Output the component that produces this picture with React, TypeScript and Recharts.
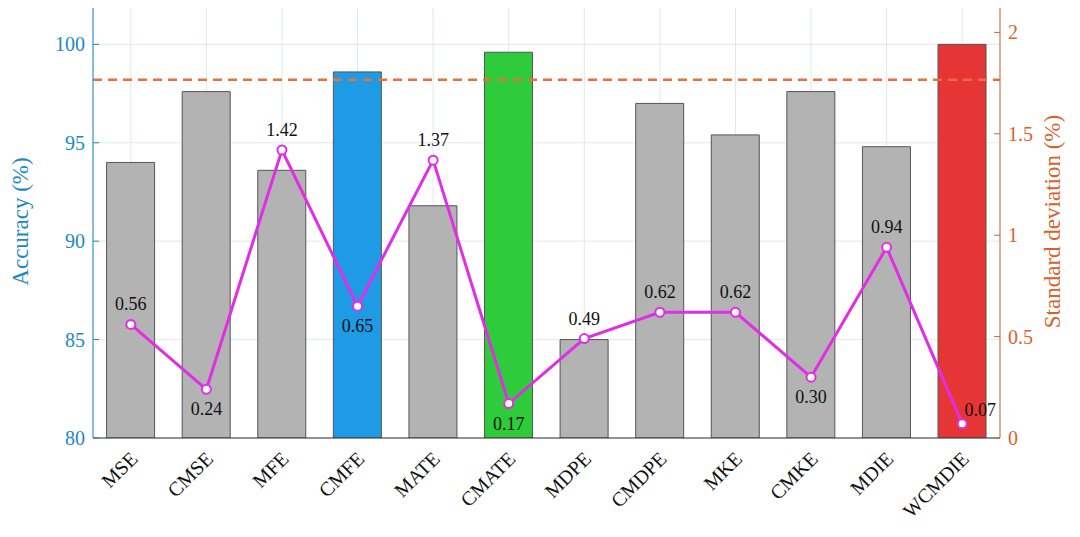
import { ComposedChart, Bar, Line, XAxis, YAxis, CartesianGrid, ReferenceLine, Cell, LabelList } from "recharts";

const methods = ["MSE", "CMSE", "MFE", "CMFE", "MATE", "CMATE", "MDPE", "CMDPE", "MKE", "CMKE", "MDIE", "WCMDIE"];
const accuracy = [94.0, 97.6, 93.6, 98.6, 91.8, 99.6, 85.0, 97.0, 95.4, 97.6, 94.8, 100.0];
const stdDev = [0.56, 0.24, 1.42, 0.65, 1.37, 0.17, 0.49, 0.62, 0.62, 0.3, 0.94, 0.07];
const labelPos = ["up", "down", "up", "down", "up", "down", "up", "up", "up", "down", "up", "right"];
const barColors = ["#b3b3b3", "#b3b3b3", "#b3b3b3", "#1f9be6", "#b3b3b3", "#2ecc3a", "#b3b3b3", "#b3b3b3", "#b3b3b3", "#b3b3b3", "#b3b3b3", "#e53535"];
const leftTicks = [80, 85, 90, 95, 100];
const rightTicks = [0, 0.5, 1, 1.5, 2];

const data = methods.map((m, i) => ({ name: m, acc: accuracy[i], sd: stdDev[i], pos: labelPos[i] }));

const blue = "#1a8ac4";
const orange = "#d9622b";
const font = "Liberation Serif";

const SdLabel = (props: any) => {
  const { x, y, value, index } = props;
  const pos = labelPos[index];
  let dx = 0;
  let dy = -14;
  if (pos === "down") dy = 26;
  if (pos === "right") { dx = 18; dy = -8; }
  return (
    <text x={x + dx} y={y + dy} textAnchor="middle" fontFamily={font} fontSize={18} fill="#111">
      {value.toFixed(2)}
    </text>
  );
};

const XTick = (props: any) => {
  const { x, y, payload } = props;
  return (
    <text x={x + 8} y={y + 14} textAnchor="end" fontFamily={font} fontSize={20} fill="#111" transform={`rotate(-45, ${x + 8}, ${y + 14})`}>
      {payload.value}
    </text>
  );
};

export default function App() {
  return (
    <div style={{ margin: -8, background: "#fff" }}>
      <ComposedChart width={1080} height={537} data={data} margin={{ top: 5, right: 14, bottom: 11, left: 6 }} barCategoryGap="18%">
        <CartesianGrid yAxisId="l" stroke="#dfe9ee" vertical={true} horizontal={true} />
        <XAxis dataKey="name" tick={<XTick />} tickLine={false} stroke="#333" height={88} interval={0} />
        <YAxis
          yAxisId="l"
          domain={[80, 102]}
          ticks={leftTicks}
          allowDataOverflow
          stroke={blue}
          tick={{ fill: blue, fontFamily: font, fontSize: 20 }}
          tickSize={-6}
          tickMargin={14}
          width={87}
          label={{ value: "Accuracy (%)", angle: -90, position: "insideLeft", offset: 14, fill: blue, fontFamily: font, fontSize: 23, style: { textAnchor: "middle" } }}
        />
        <YAxis
          yAxisId="r"
          orientation="right"
          domain={[0, 2.135]}
          ticks={rightTicks}
          allowDataOverflow
          stroke={orange}
          tick={{ fill: orange, fontFamily: font, fontSize: 20 }}
          tickSize={-6}
          tickMargin={14}
          width={66}
          label={{ value: "Standard deviation (%)", angle: -90, position: "insideRight", offset: 14, fill: orange, fontFamily: font, fontSize: 23, style: { textAnchor: "middle" } }}
        />
        <ReferenceLine yAxisId="l" y={102} stroke="#333" strokeWidth={1} />
        <Bar yAxisId="l" dataKey="acc" stroke="#555" strokeWidth={1} isAnimationActive={false}>
          {data.map((d, i) => (
            <Cell key={d.name} fill={barColors[i]} />
          ))}
        </Bar>
        <ReferenceLine yAxisId="l" y={98.2} stroke="#e8703a" strokeWidth={2.5} strokeDasharray="9 6" />
        <Line
          yAxisId="r"
          dataKey="sd"
          stroke="#e12ee6"
          strokeWidth={3}
          dot={{ r: 4.5, fill: "#fff", stroke: "#e12ee6", strokeWidth: 2 }}
          isAnimationActive={false}
        >
          <LabelList dataKey="sd" content={<SdLabel />} />
        </Line>
      </ComposedChart>
    </div>
  );
}
